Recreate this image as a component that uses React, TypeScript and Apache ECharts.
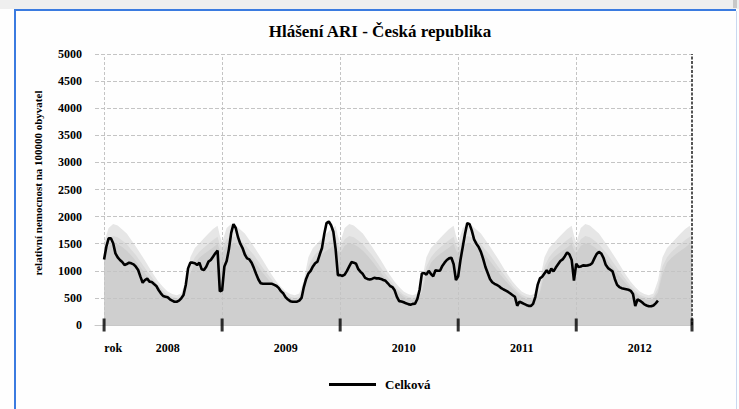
import { useEffect, useRef } from "react";
import * as echarts from "echarts";

// ---- data ----
const titleText = "Hlášení ARI - Česká republika";
const yAxisTitle = "relativní nemocnost na 100000 obyvatel";
const seriesName = "Celková";
const firstXLabel = "rok";
const years = ["2008", "2009", "2010", "2011", "2012"];
const weeksPerYear = 52;
const lastWeek = 259;

// weekly values of the black line, one array per season-year
const line2008 = [1210, 1445, 1599, 1599, 1507, 1322, 1248, 1199, 1162, 1107, 1125, 1150, 1138, 1119, 1076, 1015, 892, 781, 830, 855, 800, 793, 756, 720, 646, 584, 535, 523, 510, 474, 449, 430, 430, 449, 492, 553, 738, 1045, 1150, 1150, 1138, 1107, 1150, 1027, 1015, 1076, 1169, 1199, 1261, 1322, 1371, 620];
const line2009 = [640, 1080, 1180, 1400, 1700, 1860, 1790, 1620, 1500, 1420, 1300, 1230, 1210, 1150, 1050, 940, 840, 770, 760, 760, 760, 760, 760, 740, 720, 680, 620, 580, 510, 470, 440, 430, 430, 430, 450, 500, 700, 850, 950, 1000, 1080, 1140, 1170, 1300, 1420, 1680, 1880, 1910, 1840, 1720, 1400, 920];
const line2010 = [920, 905, 930, 1000, 1080, 1160, 1150, 1130, 1030, 980, 940, 870, 850, 840, 850, 870, 860, 860, 850, 830, 815, 770, 720, 700, 640, 520, 440, 435, 420, 400, 385, 375, 390, 395, 480, 650, 950, 960, 930, 1000, 940, 900, 1010, 1000, 1000, 1090, 1150, 1200, 1230, 1240, 1120, 830];
const line2011 = [900, 1200, 1440, 1680, 1880, 1860, 1740, 1580, 1500, 1440, 1350, 1220, 1070, 960, 850, 790, 760, 740, 715, 680, 655, 635, 610, 580, 550, 520, 355, 430, 410, 390, 370, 352, 350, 390, 520, 740, 860, 890, 950, 1010, 950, 1040, 990, 1060, 1120, 1180, 1210, 1270, 1340, 1300, 1200, 820];
const line2012 = [1130, 1070, 1080, 1100, 1095, 1100, 1110, 1140, 1230, 1310, 1350, 1320, 1240, 1110, 1050, 1020, 990, 850, 740, 700, 680, 670, 660, 650, 630, 570, 350, 470, 450, 420, 380, 360, 345, 345, 360, 400, 450];
const lineByYear = [line2008, line2009, line2010, line2011, line2012];

// seasonal reference bands (same pattern every year), sampled at these weeks
const bandWeeks = [0, 2, 4, 6, 8, 10, 12, 14, 16, 18, 20, 22, 24, 26, 28, 30, 32, 34, 36, 38, 40, 42, 44, 46, 48, 50, 51];
const bandUpper = [1520, 1790, 1865, 1835, 1760, 1690, 1570, 1450, 1320, 1190, 1050, 920, 800, 700, 620, 570, 550, 580, 820, 1250, 1420, 1510, 1600, 1690, 1770, 1830, 1650];
const bandMiddle = [1420, 1580, 1640, 1620, 1560, 1490, 1390, 1290, 1170, 1050, 940, 830, 720, 630, 560, 520, 500, 520, 680, 1080, 1250, 1350, 1430, 1500, 1570, 1630, 1480];
const bandLower = [1320, 1460, 1510, 1490, 1440, 1370, 1280, 1180, 1070, 960, 860, 760, 670, 590, 520, 480, 460, 480, 600, 950, 1150, 1240, 1310, 1370, 1430, 1500, 1380];

const yMax = 5000;
const yStep = 500;

const FONT = "'Liberation Serif', 'Times New Roman', 'DejaVu Serif', serif";

function bandData(values: number[]) {
  const out: number[][] = [];
  years.forEach((_, y) => {
    bandWeeks.forEach((w, i) => {
      const x = y * weeksPerYear + w;
      if (x <= lastWeek) out.push([x, values[i]]);
    });
  });
  return out;
}

export default function App() {
  const ref = useRef<HTMLDivElement>(null);
  useEffect(() => {
    if (!ref.current) return;
    const chart = echarts.init(ref.current, undefined, { renderer: "svg" });

    const lineData: number[][] = [];
    lineByYear.forEach((arr, y) => arr.forEach((v, w) => lineData.push([y * weeksPerYear + w, v])));

    const boundaries = years.map((_, i) => i * weeksPerYear);
    const tickData = [...boundaries, lastWeek].map((x) => [x, 0]);
    const labelWeeks = [4, ...years.map((_, i) => i * weeksPerYear + 28)];

    const hLines: any[] = [];
    for (let v = yStep; v <= yMax; v += yStep) {
      hLines.push({ yAxis: v, lineStyle: { color: "#c4c4c4", type: [4, 2], width: 1 } });
    }
    const vLines = boundaries.map((x) => ({ xAxis: x, lineStyle: { color: "#c4c4c4", type: [3, 2], width: 1 } }));
    vLines.push({ xAxis: lastWeek, lineStyle: { color: "#555555", type: [3, 1.5], width: 2 } } as any);

    const bandSeries = (name: string, values: number[], color: string) => ({
      name,
      type: "line",
      data: bandData(values),
      symbol: "none",
      showSymbol: false,
      silent: true,
      lineStyle: { width: 0, opacity: 0 },
      areaStyle: { color, opacity: 1 },
      z: 1,
    });

    chart.setOption({
      animation: false,
      grid: { left: 95, right: 47, top: 54, bottom: 84, containLabel: false },
      graphic: [
        {
          type: "text",
          x: 380,
          y: 31,
          style: {
            text: titleText,
            fill: "#000",
            font: `bold 17px ${FONT}`,
            align: "center",
            verticalAlign: "middle",
            textAlign: "center",
            textVerticalAlign: "middle",
          },
        },
        {
          type: "text",
          x: 38,
          y: 183,
          rotation: Math.PI / 2,
          style: {
            text: yAxisTitle,
            fill: "#000",
            font: `bold 11px ${FONT}`,
            align: "center",
            verticalAlign: "middle",
            textAlign: "center",
            textVerticalAlign: "middle",
          },
        },
      ],
      legend: {
        data: [{ name: seriesName, icon: "rect" }],
        left: 329,
        top: 378,
        padding: 0,
        itemWidth: 47,
        itemHeight: 3,
        itemStyle: { color: "#000" },
        textStyle: { fontFamily: FONT, fontWeight: "bold", fontSize: 13, color: "#000", padding: [0, 0, 0, 4] },
      },
      xAxis: {
        type: "value",
        min: -4,
        max: lastWeek,
        axisLine: { show: true, lineStyle: { color: "#c8c8c8", width: 1 } },
        axisTick: { show: false },
        splitLine: { show: false },
        axisLabel: {
          customValues: labelWeeks,
          formatter: (v: number) => (v === labelWeeks[0] ? firstXLabel : years[Math.round((v - 28) / weeksPerYear)]),
          margin: 17,
          fontFamily: FONT,
          fontWeight: "bold",
          fontSize: 12,
          color: "#000",
          hideOverlap: false,
        },
      },
      yAxis: {
        type: "value",
        min: 0,
        max: yMax,
        interval: yStep,
        axisLine: { show: false },
        axisTick: { show: false },
        splitLine: { show: false },
        axisLabel: {
          margin: 13,
          fontFamily: FONT,
          fontWeight: "bold",
          fontSize: 12,
          color: "#000",
          formatter: (v: number) => String(v),
        },
      },
      series: [
        bandSeries("max", bandUpper, "#e6e6e6"),
        bandSeries("mid", bandMiddle, "#dadada"),
        bandSeries("median", bandLower, "#cfcfcf"),
        {
          name: "ticks",
          type: "scatter",
          data: tickData,
          symbol: "rect",
          symbolSize: [3, 13],
          itemStyle: { color: "#000" },
          silent: true,
          z: 5,
          markLine: {
            silent: true,
            symbol: ["none", "none"],
            label: { show: false },
            data: [...hLines, ...vLines],
          },
        },
        {
          name: seriesName,
          type: "line",
          data: lineData,
          symbol: "none",
          showSymbol: false,
          lineStyle: { color: "#000", width: 2.6 },
          itemStyle: { color: "#000" },
          z: 6,
        },
      ],
    });
    return () => chart.dispose();
  }, []);

  return (
    <div style={{ position: "fixed", left: 0, top: 0, width: 739, height: 409, background: "#fefefe", overflow: "hidden" }}>
      <div style={{ position: "absolute", left: 0, top: 0, width: 739, height: 9, background: "#efefef" }} />
      <div style={{ position: "absolute", left: 733, top: 0, width: 4, height: 8, background: "#c8c8c8" }} />
      <div style={{ position: "absolute", left: 14, top: 9, width: 722, height: 2, background: "#3b7be0" }} />
      <div style={{ position: "absolute", left: 14, top: 9, width: 2, height: 400, background: "#3b7be0" }} />
      <div style={{ position: "absolute", left: 736, top: 11, width: 1, height: 398, background: "#c9d8f0" }} />
      <div ref={ref} style={{ position: "absolute", left: 0, top: 0, width: 739, height: 409 }} />
    </div>
  );
}
